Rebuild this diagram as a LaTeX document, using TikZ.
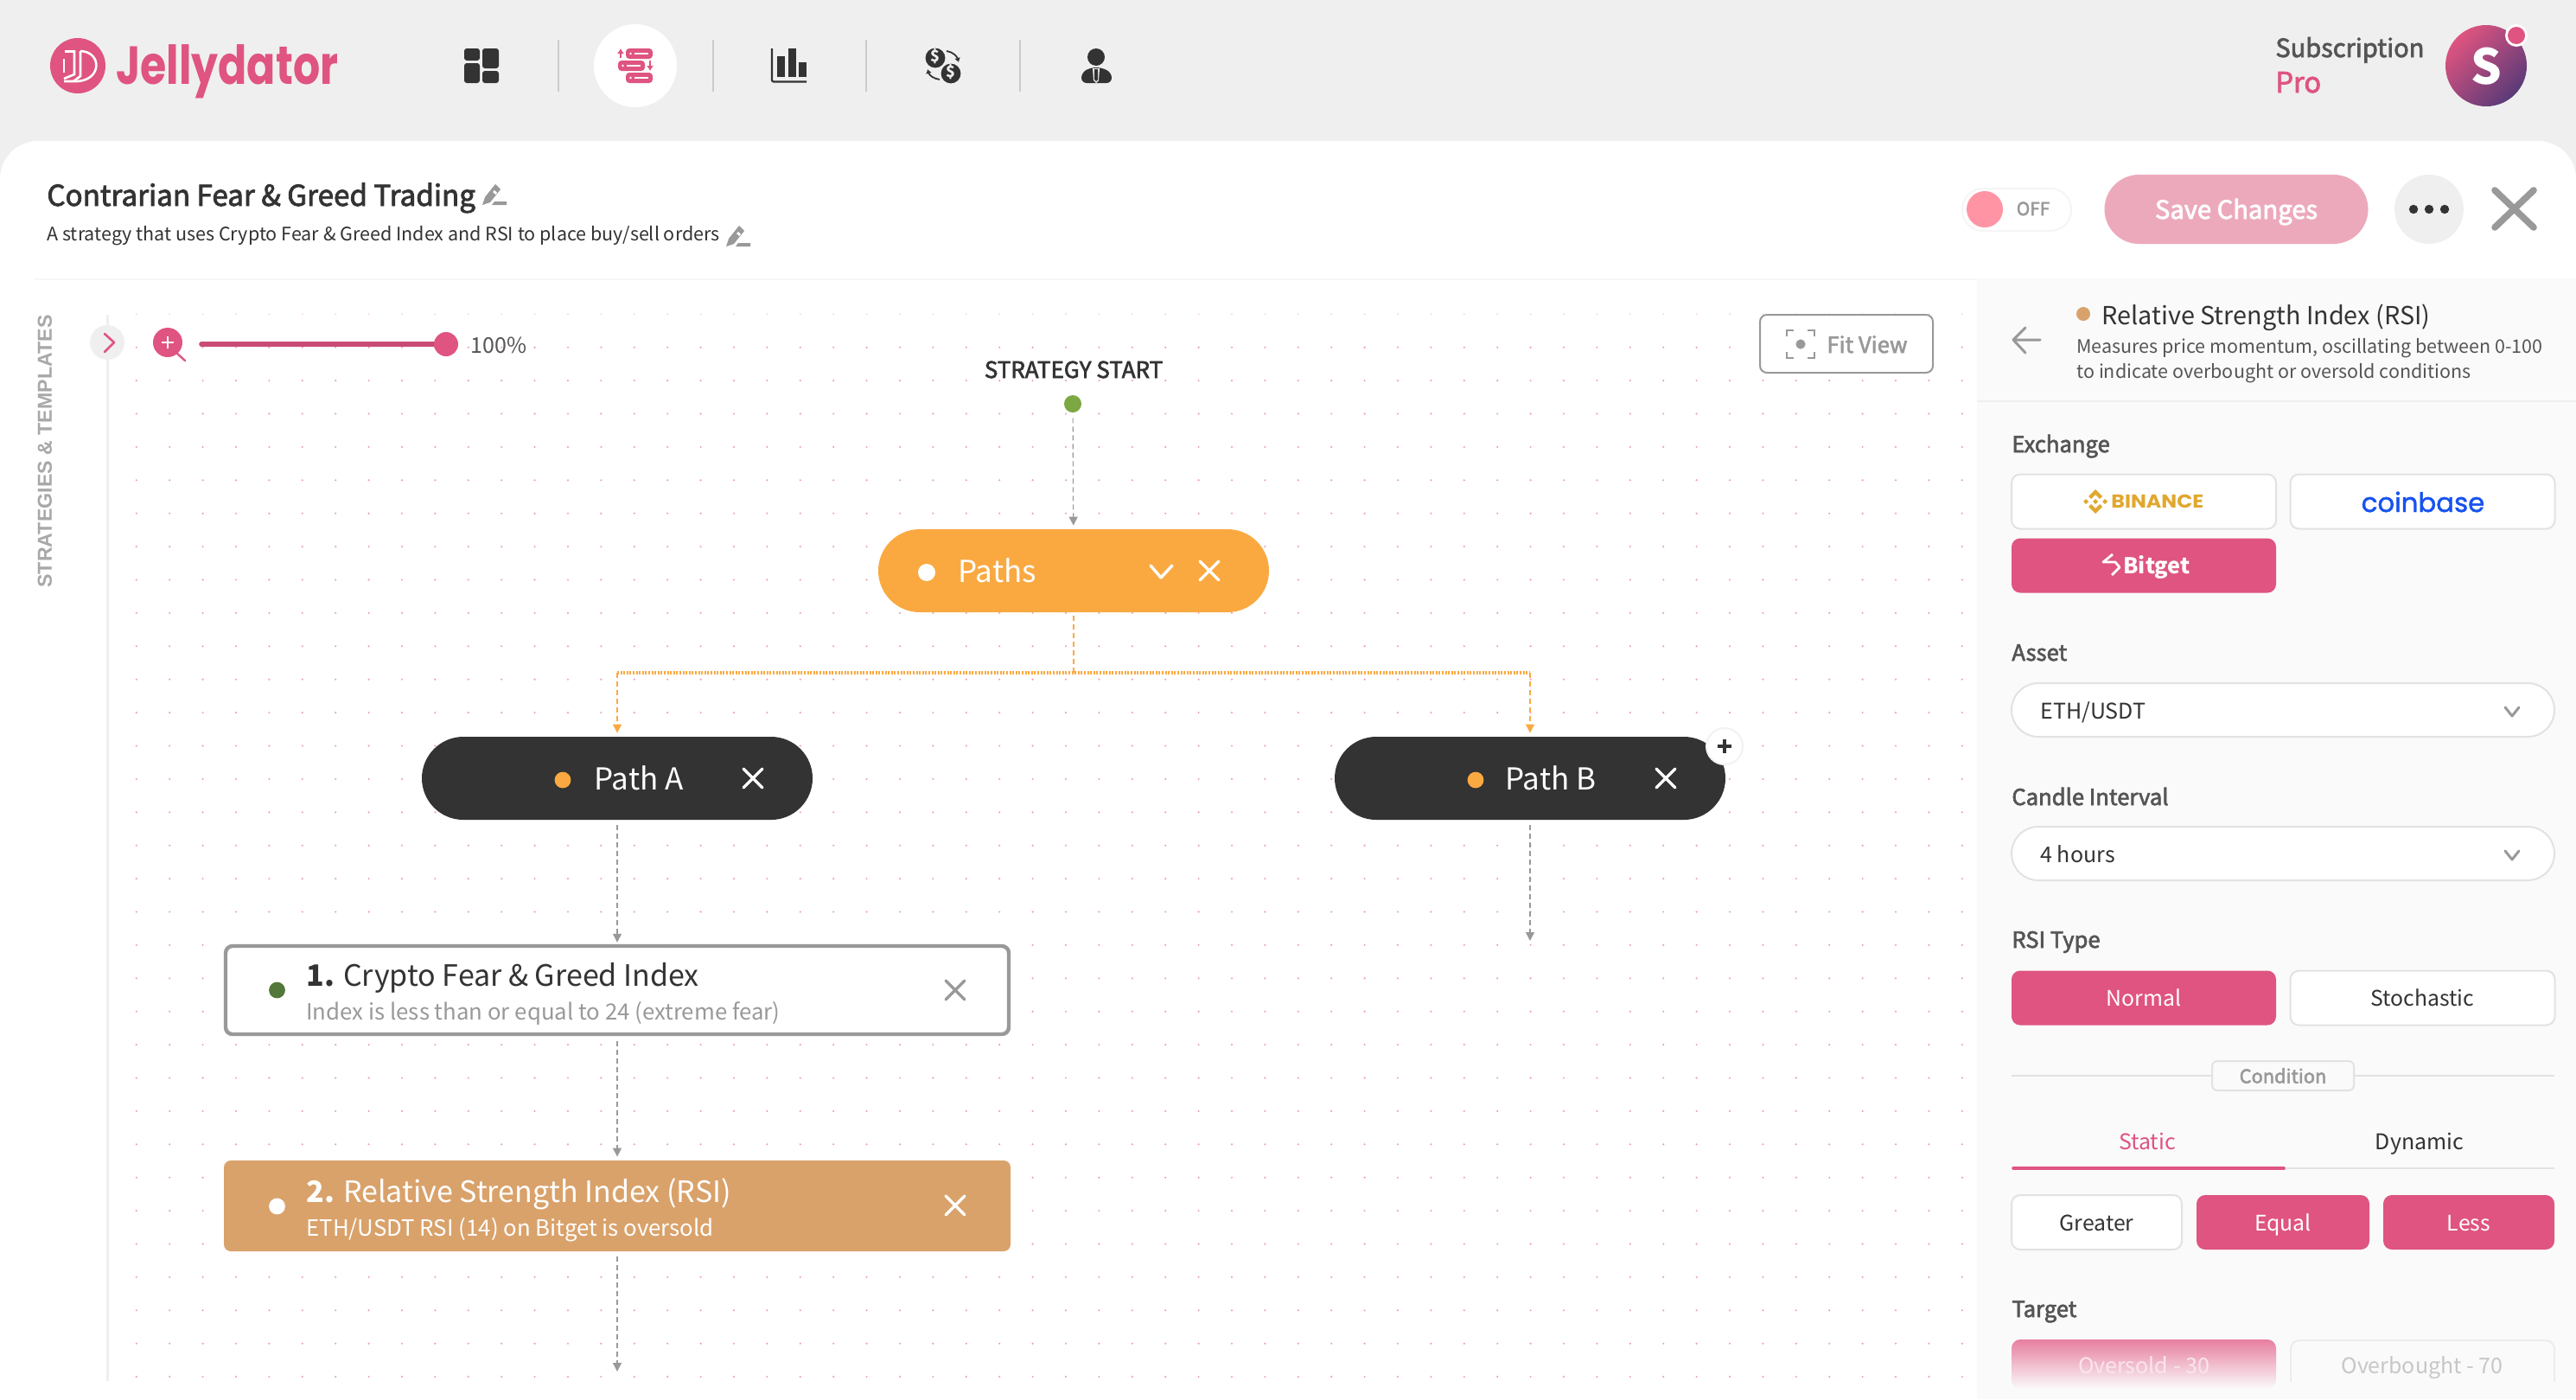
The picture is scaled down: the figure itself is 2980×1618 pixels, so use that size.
\documentclass[tikz,border=0pt]{standalone}
\usepackage{fontspec}
\setmainfont{Noto Sans CJK SC}
\newfontfamily\medfont[FakeBold=2.5]{Noto Sans CJK SC}
\newfontfamily\logofont{Poppins}
\newfontfamily\coinfont[FakeBold=1.5]{Poppins}
\newfontfamily\tagfont{Liberation Sans}
\usetikzlibrary{arrows.meta,positioning}
\newcommand{\fs}[1]{\fontsize{#1}{#1}\selectfont}
\definecolor{headbg}{HTML}{EFEFEF}
\definecolor{panelbg}{HTML}{FAFAFA}
\definecolor{jellypink}{HTML}{DF5480}
\definecolor{softpink}{HTML}{EDA9BC}
\definecolor{knobpink}{HTML}{FF95A4}
\definecolor{avatarend}{HTML}{5A3A78}
\definecolor{ink}{HTML}{333333}
\definecolor{midgray}{HTML}{555555}
\definecolor{mutegray}{HTML}{999999}
\definecolor{edgegray}{HTML}{E2E2E2}
\definecolor{pathorange}{HTML}{FAA941}
\definecolor{rsiorange}{HTML}{D9A26B}
\definecolor{startgreen}{HTML}{7CA843}
\definecolor{fearpgreen}{HTML}{54773A}
\definecolor{binancegold}{HTML}{E0A82E}
\definecolor{coinbaseblue}{HTML}{1652F0}
\tikzset{
  txt/.style={anchor=base west,inner sep=0pt,text=ink},
  ctxt/.style={anchor=base,inner sep=0pt,text=ink},
  formlabel/.style={txt,text=midgray,font=\medfont\fs{12.8}},
  pill/.style={rounded corners=24pt,minimum width=226pt,minimum height=48pt,inner sep=0pt},
  stepcard/.style={rounded corners=4pt,minimum width=455pt,minimum height=52.5pt,inner sep=0pt},
  btnoff/.style={draw=edgegray,line width=1pt,fill=white,rounded corners=5pt,inner sep=0pt,font=\fs{12.4},text=ink,text height=11pt,text depth=1.5pt},
  btnon/.style={fill=jellypink,rounded corners=5pt,inner sep=0pt,font=\fs{12.4},text=white,text height=11pt,text depth=1.5pt},
  wide/.style={minimum width=153pt,minimum height=31.5pt},
  tri/.style={minimum width=100pt,minimum height=31.5pt},
  selectbox/.style={draw=edgegray,line width=1pt,fill=white,rounded corners=15.5pt,minimum width=314pt,minimum height=31pt,inner sep=0pt},
  linkgray/.style={draw=mutegray,line width=0.6pt,dash pattern=on 3pt off 2pt,-{Triangle[length=5pt,width=5pt]}},
  linkorange/.style={draw=pathorange,line width=0.6pt,dash pattern=on 3pt off 2pt},
  crossline/.style={line width=1.7pt,line cap=round},
  chevline/.style={draw=mutegray,line width=1.5pt,line cap=round,line join=round},
}
\begin{document}
\begin{tikzpicture}[x=0.5pt,y=-0.5pt]
\useasboundingbox (0,0) rectangle (2980,1618);
% header and white sheet
\fill[headbg] (0,0) rectangle (2980,1618);
\fill[white,rounded corners=22pt] (0,1618) -- (0,163) -- (2980,163) -- (2980,1618) [sharp corners] -- cycle;
\fill[white!97!black] (40,322) rectangle (2980,324);
% dot grid
\foreach \col in {0,...,55}
  \fill[jellypink!25] (157.8+38.4*\col,363.3) circle[radius=0.55pt];
\foreach \row in {1,...,32}
  \foreach \col in {0,...,55}
    \fill[jellypink!55] (157.8+38.4*\col,363.3+38.4*\row) circle[radius=0.6pt];
% logo
\fill[jellypink] (90,76) circle[radius=16pt];
\draw[white,line width=1.3pt] (75,59.5) -- (86,59.5) -- (86,86) -- (74,91);
\draw[white,line width=1.3pt] (74,68) -- (74,84);
\draw[white,line width=1.3pt] (93,59) .. controls (118,60) and (118,92) .. (90,94) -- (74,94);
\draw[white,line width=1.3pt] (93,59) -- (93,88) -- (85,94);
\node[txt,text=jellypink,font=\logofont\bfseries\fs{31}] (logotext) at (134,97) {\scalebox{0.79}[1]{Jellydator}};
% nav icons
\fill[white] (735,76) circle[radius=24pt];
\foreach \sepx in {646,825,1002,1180}
  \draw[edgegray!90!black,line width=1pt] (\sepx,46) -- (\sepx,106);
\fill[ink,rounded corners=1.5pt] (537,56) rectangle (555,70);
\fill[ink,rounded corners=1.5pt] (537,73) rectangle (555,96);
\fill[ink,rounded corners=1.5pt] (558,56) rectangle (577,79);
\fill[ink,rounded corners=1.5pt] (558,82) rectangle (577,96);
\foreach \bx/\by in {724/56,715/70,724/84} {
  \fill[jellypink,rounded corners=2pt] (\bx,\by) rectangle (\bx+31,\by+12);
  \fill[white] (\bx+5.5,\by+6) circle[radius=0.7pt];
  \draw[white,line width=0.7pt] (\bx+10,\by+6) -- (\bx+26,\by+6);
}
\draw[jellypink,line width=1.1pt,-{Latex[length=3pt,width=4pt]}] (718,67) -- (718,56);
\draw[jellypink,line width=1.1pt,-{Latex[length=3pt,width=4pt]}] (752,70) -- (752,82);
\draw[ink,line width=1.1pt,rounded corners=1pt] (893,56) -- (893,94.5) -- (933,94.5);
\fill[ink] (899,65) rectangle (908,89);
\fill[ink] (912,56) rectangle (921,89);
\fill[ink] (924,72) rectangle (933,89);
\fill[ink] (1082,67) circle[radius=5.7pt];
\fill[ink] (1100,85) circle[radius=5.7pt];
\node[ctxt,text=headbg,font=\bfseries\fs{9}] (dollara) at (1082,71) {\$};
\node[ctxt,text=headbg,font=\bfseries\fs{9}] (dollarb) at (1100,89) {\$};
\draw[ink,line width=0.9pt,-{Latex[length=2.5pt,width=3.5pt]}] (1095,59) .. controls (1102,60) and (1107,65) .. (1109,72);
\draw[ink,line width=0.9pt,-{Latex[length=2.5pt,width=3.5pt]}] (1087,92) .. controls (1080,91) and (1075,87) .. (1073,80);
\fill[ink] (1268,66) circle[radius=5pt];
\fill[ink,rounded corners=3pt] (1251,96) -- (1251,84) -- (1262,78) -- (1274,78) -- (1286,84) -- (1286,96) -- cycle;
\fill[headbg] (1264,79) -- (1272,79) -- (1271,93) -- (1268,96) -- (1265,93) -- cycle;
\fill[ink] (1266,80) -- (1270,80) -- (1270,92) -- (1268,94) -- (1266,92) -- cycle;
% subscription
\node[txt,text=midgray,font=\medfont\fs{14.5}] (subsname) at (2632,66) {Subscription};
\node[txt,text=jellypink,font=\medfont\fs{16.3}] (subsplan) at (2632,107) {Pro};
\shade[top color=jellypink,bottom color=avatarend,shading angle=45] (2876,76) circle[radius=23.5pt];
\node[ctxt,text=white,font=\bfseries\fs{28}] (avatarletter) at (2876,97) {S};
\fill[white] (2911,41) circle[radius=6.5pt];
\fill[jellypink] (2911,41) circle[radius=5pt];
% title block
\node[txt,font=\medfont\fs{16.6}] (strategytitle) at (54,238) {Contrarian Fear \& Greed Trading};
\node[txt,font=\fs{10.75}] (strategydesc) at (54,278) {A strategy that uses Crypto Fear \& Greed Index and RSI to place buy/sell orders};
\foreach \ex/\ey in {558/237,840/285} {
  \begin{scope}[shift={(\ex,\ey)}]
    \fill[mutegray] (0,0) -- (3,-9) -- (15,-24) -- (21,-18) -- (9,-3) -- cycle;
    \fill[white] (14,-17) -- (17,-14) -- (15,-12) -- (12,-15) -- cycle;
    \fill[mutegray] (14,-4) -- (28,-4) -- (28,0) -- (11,0) -- cycle;
  \end{scope}
}
% top right controls
\draw[black!4,fill=white,line width=1pt,rounded corners=12pt] (2270,218) rectangle (2396,267);
\fill[knobpink] (2296,242) circle[radius=10.5pt];
\node[ctxt,text=mutegray,font=\medfont\fs{10.4}] (togglelabel) at (2352,249) {OFF};
\node[fill=softpink,rounded corners=20pt,minimum width=152.5pt,minimum height=40pt,inner sep=0pt] (savebtn) at (2587,242) {};
\node[ctxt,text=white,font=\medfont\fs{14.6}] (savelabel) at (2587,253) {Save Changes};
\fill[headbg] (2810,242) circle[radius=20pt];
\foreach \dotx in {2792,2810,2828}
  \fill[ink] (\dotx,242) circle[radius=2.6pt];
\draw[mutegray,line width=3.8pt,line cap=round] (2886,220) -- (2931,263) (2931,220) -- (2886,263);
% sidebar
\node[text=mutegray!85!white,rotate=90,inner sep=0pt,font=\tagfont\bfseries\fs{11.6}] (sidetag) at (52,522) {STRATEGIES \& TEMPLATES};
\draw[headbg,line width=1.5pt] (124,364) -- (124,1597);
\fill[headbg] (124,396) circle[radius=10pt];
\draw[jellypink,line width=1.3pt,line cap=round,line join=round] (121,386) -- (132,396) -- (121,407);
% zoom slider
\fill[jellypink] (194,396) circle[radius=8.5pt];
\draw[white,line width=1.4pt] (187,396) -- (201,396) (194,389) -- (194,403);
\draw[jellypink,line width=1.2pt,line cap=round] (204,408) -- (214,417);
\draw[jellypink!90!black,line width=2.8pt,line cap=round] (233,398) -- (516,398);
\fill[jellypink] (516,398) circle[radius=7pt];
\node[txt,text=midgray,font=\fs{12.5}] (zoomlabel) at (544,408) {100\%};
% fit view
\node[draw=mutegray,line width=1pt,fill=white,rounded corners=4pt,minimum width=100pt,minimum height=33.5pt,inner sep=0pt] (fitview) at (2136,397.5) {};
\node[txt,text=mutegray,font=\medfont\fs{12.8}] (fitlabel) at (2113,408) {Fit View};
\fill[mutegray] (2083,398) circle[radius=2.8pt];
\draw[mutegray,line width=1.1pt] (2067,389) -- (2067,382) -- (2075,382) (2091,382) -- (2099,382) -- (2099,389)
  (2099,407) -- (2099,414) -- (2091,414) (2075,414) -- (2067,414) -- (2067,407);
% flow
\node[ctxt,font=\medfont\fs{13}] (startlabel) at (1242,437) {STRATEGY START};
\node[circle,fill=startgreen,minimum size=10pt,inner sep=0pt] (startdot) at (1241,467) {};
\node[pill,fill=pathorange] (paths) at (1242,660) {};
\node[pill,fill=ink] (patha) at (714,900) {};
\node[pill,fill=ink] (pathb) at (1770,900) {};
\node[stepcard,draw=mutegray,line width=2.2pt,fill=white,minimum width=453pt,minimum height=51pt] (stepone) at (714,1145) {};
\node[stepcard,fill=rsiorange] (steptwo) at (714,1394.5) {};
\coordinate (fork) at (1242,778);
\coordinate (pathbend) at (1770,1088);
\coordinate (stepend) at (714,1586);
\draw[linkgray,shorten <=3pt,shorten >=2pt] (startdot) -- (paths);
\draw[linkorange,shorten <=2pt] (paths) -- (fork);
\draw[pathorange,line width=1.6pt,dash pattern=on 1pt off 0.8pt,rounded corners=2pt] (patha.north |- fork) -- (pathb.north |- fork);
\foreach \target in {patha,pathb}
  \draw[linkorange,-{Triangle[length=5pt,width=5pt]},shorten >=2pt] (\target.north |- fork) -- (\target);
\draw[linkgray,shorten <=3pt,shorten >=1pt] (patha) -- (stepone);
\draw[linkgray,shorten <=3pt] (pathb) -- (pathbend);
\draw[linkgray,shorten <=3pt,shorten >=2pt] (stepone) -- (steptwo);
\draw[linkgray,shorten <=3pt] (steptwo) -- (stepend);
% flow contents
\fill[white] (1072,662) circle[radius=5pt];
\node[txt,text=white,font=\fs{17.5}] (pathslabel) at (1108,673) {Paths};
\draw[white,line width=1.7pt,line cap=round,line join=round] (1331,654) -- (1343,668) -- (1356,654);
\fill[pathorange] (651,902) circle[radius=4.7pt];
\fill[pathorange] (1707,902) circle[radius=4.7pt];
\node[txt,text=white,font=\fs{17.5}] (pathalabel) at (687,913) {Path A};
\node[txt,text=white,font=\fs{17.5}] (pathblabel) at (1741,913) {Path B};
\foreach \xx/\yy/\cc in {1399/660/white,871/900/white,1927/900/white,1105/1145/mutegray,1105/1394/white}
  \draw[crossline,\cc] (\xx-11,\yy-11) -- (\xx+11,\yy+11) (\xx+11,\yy-11) -- (\xx-11,\yy+11);
\draw[black!5,fill=white,line width=1pt] (1995,863) circle[radius=10.5pt];
\draw[ink,line width=1.6pt] (1987,863) -- (2003,863) (1995,855) -- (1995,871);
\fill[fearpgreen] (320.5,1145) circle[radius=4.7pt];
\node[txt,font=\fs{17}] (steponetitle) at (354,1140) {\textbf{1.} Crypto Fear \& Greed Index};
\node[txt,text=mutegray,font=\fs{12.9}] (steponedesc) at (354,1179) {Index is less than or equal to 24 (extreme fear)};
\fill[white] (320.5,1395) circle[radius=4.7pt];
\node[txt,text=white,font=\fs{17}] (steptwotitle) at (354,1390) {\textbf{2.} Relative Strength Index (RSI)};
\node[txt,text=white,font=\fs{12.9}] (steptwodesc) at (354,1429) {ETH/USDT RSI (14) on Bitget is oversold};
% settings panel
\fill[panelbg] (2287,323) rectangle (2980,1618);
\draw[headbg,line width=1pt] (2287,464) -- (2980,464);
\draw[mutegray,line width=1.5pt,line cap=round,line join=round] (2343,379) -- (2329,393) -- (2343,408) (2329,393) -- (2360,393);
\fill[rsiorange] (2410,363) circle[radius=4pt];
\node[txt,font=\fs{14.4}] (paneltitle) at (2431,375) {Relative Strength Index (RSI)};
\node[txt,text=midgray,font=\fs{10.75}] (paneldesca) at (2402,408) {Measures price momentum, oscillating between 0-100};
\node[txt,text=midgray,font=\fs{10.75}] (paneldescb) at (2402,437) {to indicate overbought or oversold conditions};
\node[formlabel] (exchangelabel) at (2327,523) {Exchange};
\node[btnoff,wide] (binancebtn) at (2480,580) {};
\node[btnoff,wide] (coinbasebtn) at (2802.5,580) {};
\node[btnon,wide] (bitgetbtn) at (2480,654) {};
\node[txt,text=binancegold,font=\logofont\bfseries\fs{10.8}] (binancelabel) at (2442,587) {\scalebox{1.1}[1]{BINANCE}};
\begin{scope}[shift={(2424,580)}]
  \fill[binancegold] (0,-14) -- (8,-6) -- (5,-3) -- (0,-8) -- (-5,-3) -- (-8,-6) -- cycle;
  \fill[binancegold] (0,14) -- (8,6) -- (5,3) -- (0,8) -- (-5,3) -- (-8,6) -- cycle;
  \fill[binancegold] (0,-3) -- (3,0) -- (0,3) -- (-3,0) -- cycle;
  \fill[binancegold] (-14,0) -- (-11,-3) -- (-8,0) -- (-11,3) -- cycle;
  \fill[binancegold] (14,0) -- (11,-3) -- (8,0) -- (11,3) -- cycle;
\end{scope}
\node[ctxt,text=coinbaseblue,font=\coinfont\fs{15.4}] (coinbaselabel) at (2803,592) {coinbase};
\node[txt,text=white,font=\bfseries\fs{12.6}] (bitgetlabel) at (2456,663) {Bitget};
\draw[white,line width=1.4pt,line join=round] (2444,641) -- (2433,650) -- (2447,650) -- (2452,656) -- (2443,665);
\node[formlabel] (assetlabel) at (2327,764) {Asset};
\node[selectbox] (assetbox) at (2641,821) {};
\node[txt,font=\fs{12.5}] (assetvalue) at (2360,831) {ETH/USDT};
\node[formlabel] (candlelabel) at (2327,931) {Candle Interval};
\node[selectbox] (candlebox) at (2641,987) {};
\node[txt,font=\fs{12.5}] (candlevalue) at (2360,997) {4 hours};
\foreach \chy in {823,989}
  \draw[chevline] (2898,\chy-5) -- (2906,\chy+5) -- (2914,\chy-5);
\node[formlabel] (rsitypelabel) at (2327,1096) {RSI Type};
\node[btnon,wide] (normalbtn) at (2480,1154) {Normal};
\node[btnoff,wide] (stochasticbtn) at (2802.5,1154) {Stochastic};
% condition divider
\draw[edgegray,line width=1pt] (2327,1244) -- (2955,1244);
\node[draw=edgegray,line width=1pt,fill=panelbg,rounded corners=3pt,minimum width=82pt,minimum height=17pt,inner sep=0pt,text=mutegray,font=\medfont\fs{10.9}] (conditiontag) at (2641,1244) {Condition};
\node[ctxt,text=jellypink,font=\fs{12.5}] (statictab) at (2484,1329) {Static};
\node[ctxt,font=\fs{12.5}] (dynamictab) at (2799,1329) {Dynamic};
\draw[edgegray,line width=1pt] (2642,1351) -- (2955,1351);
\draw[jellypink,line width=1.8pt,line cap=round] (2329,1351) -- (2642,1351);
\node[btnoff,tri,minimum width=98.5pt] (greaterbtn) at (2425.5,1413.5) {Greater};
\node[btnon,tri] (equalbtn) at (2641,1413.5) {Equal};
\node[btnon,tri,minimum width=99pt] (lessbtn) at (2856,1413.5) {Less};
\node[formlabel] (targetlabel) at (2327,1523) {Target};
% faded last row
\shade[top color=jellypink!75!white,bottom color=panelbg,rounded corners=5pt] (2327,1549) rectangle (2633,1606);
\draw[edgegray!60!panelbg,line width=1pt,rounded corners=5pt] (2650,1598) -- (2650,1550) -- (2955,1550) -- (2955,1598);
\node[ctxt,text=white!85!jellypink,font=\fs{12.5}] (oversoldlabel) at (2480,1588) {Oversold - 30};
\node[ctxt,text=black!22,font=\fs{12.5}] (overboughtlabel) at (2802,1588) {Overbought - 70};
\end{tikzpicture}
\end{document}
